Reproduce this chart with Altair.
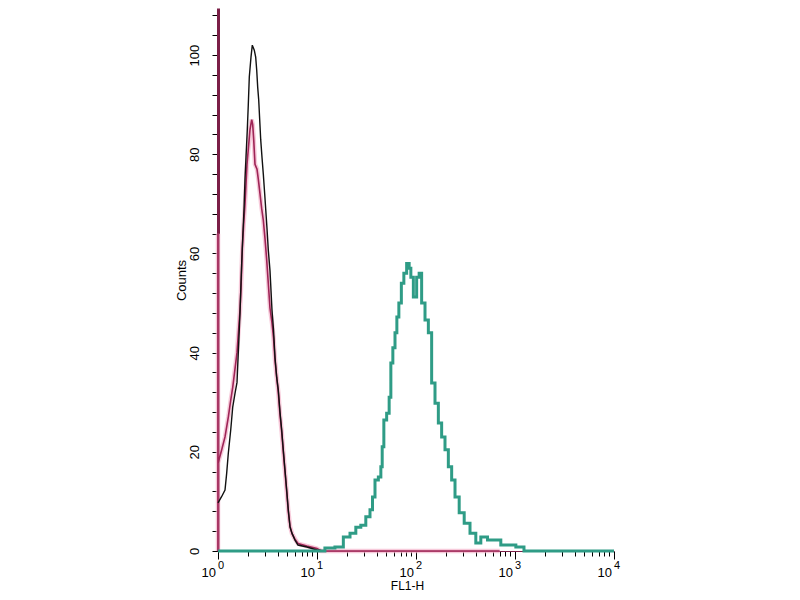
import altair as alt
import pandas as pd

# ---- data (FL1-H value, counts) ----
black_x = [1.0, 1.09, 1.177, 1.224, 1.271, 1.344, 1.408, 1.485, 1.556, 1.668, 1.735, 1.776,
           1.832, 1.874, 1.918, 1.977, 2.023, 2.071, 2.154, 2.221, 2.326, 2.403, 2.46, 2.518,
           2.577, 2.637, 2.699, 2.782, 2.869, 2.963, 3.032, 3.126, 3.222, 3.35, 3.43, 3.51,
           3.637, 3.766, 3.917, 4.065, 4.23, 4.40, 4.566, 4.75, 4.94, 5.13, 5.34, 5.59, 5.99,
           6.43, 7.9, 10.0, 12.0]
black_y = [9.7, 11, 12.3, 15.7, 19.7, 24.4, 29, 31.8, 34, 48, 58, 63,
           69, 75, 79.4, 85, 90, 95.6, 99.6, 102, 101, 99.6, 97, 93.5,
           91, 87, 83, 79.4, 76, 72, 69, 65, 60.7, 56.6, 52.6, 48.6,
           44.6, 39, 35, 32.5, 28, 24.4, 20.4, 16.3, 12.3, 8.3, 4.8, 3.6, 2.2,
           1.2, 0.8, 0.2, 0]

magenta_x = [1.0, 1.0, 1.0, 1.09, 1.177, 1.271, 1.344, 1.408, 1.556, 1.668, 1.707, 1.76,
             1.818, 1.874, 1.918, 1.963, 2.023, 2.105, 2.19, 2.241, 2.294, 2.364, 2.477,
             2.553, 2.657, 2.764, 2.869, 2.984, 3.104, 3.222, 3.35, 3.51, 3.637, 3.766,
             3.917, 4.065, 4.23, 4.40, 4.566, 4.75, 4.94, 5.13, 5.34, 5.59, 5.99, 6.43,
             7.9, 10.0, 11.0, 700.0]
magenta_y = [0, 64, 17.7, 20.4, 23, 27, 30.4, 33, 40, 48.6, 53, 61,
             66, 70, 74, 78, 81, 85, 87, 86, 83, 78, 77,
             75, 72, 69, 66.7, 63, 58.7, 54, 49, 46, 43, 38.5,
             35, 32, 27.5, 24, 20, 16, 12, 8, 5, 3.5, 2.4, 1.5,
             1.0, 0.5, 0, 0]

teal_x = [1.0, 10.7, 13.5, 17.07, 19.95, 23.27, 26.14, 29.36, 32.97, 35.69, 37.04, 40.09,
          43.29, 45.03, 46.09, 48.63, 52.51, 54.63, 56.82, 59.95, 62.81, 65.36, 68.93, 73.4,
          77.43, 83.6, 86.99, 90.5, 97.7, 105.5, 109.7, 118.5, 128.3, 138.5, 149.5, 161.9,
          174.7, 188.7, 204.2, 220.5, 238.2, 257.7, 289.4, 325.2, 379.2, 426.0, 478.5,
          581.8, 678.3, 761.8, 926.2, 1123.0, 1352.0, 10000.0]
teal_y = [0, 0, 0.6, 0.8, 2.8, 3.6, 4.8, 5.2, 6.9, 8.3, 10.9, 14.3,
          14.9, 17, 21, 26.4, 27.8, 31, 37.9, 41, 44, 47.2, 50, 54,
          56, 58, 57, 55.2, 51.2, 55.2, 56, 50, 46.6, 44, 33.9, 29.8,
          25.8, 23, 20.4, 17, 14.3, 10.9, 7.7, 5.6, 3.6, 1.6, 2.8,
          2.2, 2.2, 1.2, 1.2, 0.8, 0, 0]

x_ticks = [1, 2, 3, 4, 5, 6, 7, 8, 9,
           10, 20, 30, 40, 50, 60, 70, 80, 90,
           100, 200, 300, 400, 500, 600, 700, 800, 900,
           1000, 2000, 3000, 4000, 5000, 6000, 7000, 8000, 9000, 10000]
y_ticks = [0, 4, 8, 12, 16, 20, 24, 28, 32, 36, 40, 44, 48, 52, 56, 60,
           64, 68, 72, 76, 80, 84, 88, 92, 96, 100, 104, 108]
decades = [1, 10, 100, 1000, 10000]
dec_base = ["10", "10", "10", "10", "10"]
dec_exp = ["0", "1", "2", "3", "4"]

rows = []
for name, xs, ys in [("halo", magenta_x, magenta_y), ("magenta", magenta_x, magenta_y),
                     ("black", black_x, black_y), ("teal", teal_x, teal_y)]:
    for i, (xv, yv) in enumerate(zip(xs, ys)):
        rows.append({"series": name, "i": i, "fl1": xv, "count": yv})
df = pd.DataFrame(rows)
lab = pd.DataFrame({"v": decades, "base": dec_base, "exp": dec_exp})

FONT = "Liberation Sans"
W, H = 396, 543

xscale = alt.Scale(type="log", domain=[1, 10000], nice=False)
yscale = alt.Scale(domain=[0, 109.5], nice=False, zero=True)

xaxis = alt.Axis(values=x_ticks, labels=False, grid=False, title="FL1-H",
                 titleX=189, titleY=38, titleBaseline="alphabetic", titleAlign="center",
                 titleFont=FONT, titleFontSize=12, titleFontWeight="normal", titleColor="black",
                 tickColor="black", tickWidth=1,
                 tickSize={"condition": {"test": "indexof([1,10,100,1000,10000], datum.value) >= 0",
                                         "value": 8}, "value": 5},
                 domainColor="#7b1f47", domainWidth=1)
yaxis = alt.Axis(values=y_ticks, labelExpr="datum.value % 20 == 0 ? datum.label : ''",
                 grid=False, labelAngle=270, labelAlign="center", labelBaseline="bottom",
                 labelPadding=11, labelFont=FONT, labelFontSize=13, labelColor="black",
                 tickColor="black", tickSize=6, tickWidth=1,
                 domainColor="#7b1f47", domainWidth=3,
                 title="Counts", titleAngle=270, titleX=-33, titleY=272,
                 titleBaseline="alphabetic", titleAlign="center", titleFont=FONT,
                 titleFontSize=13, titleFontWeight="normal", titleColor="black")


def line(series, color, width, opacity=1.0, interp="linear"):
    return alt.Chart(df).transform_filter(alt.datum.series == series).mark_line(
        color=color, strokeWidth=width, opacity=opacity, interpolate=interp
    ).encode(
        x=alt.X("fl1:Q", scale=xscale, axis=xaxis),
        y=alt.Y("count:Q", scale=yscale, axis=yaxis),
        order="i:Q",
    )


halo = line("halo", "#f3b3cb", 4.5, 0.7)
mag = line("magenta", "#9e2456", 1.6)
blk = line("black", "#111111", 1.4)
teal = line("teal", "#2f9c86", 3, interp="step")

base_txt = alt.Chart(lab).mark_text(align="right", baseline="alphabetic", dx=-2,
                                    font=FONT, fontSize=13, color="black").encode(
    x=alt.X("v:Q", scale=xscale, axis=xaxis), y=alt.value(H + 26), text="base:N")
exp_txt = alt.Chart(lab).mark_text(align="left", baseline="alphabetic", dx=0,
                                   font=FONT, fontSize=11, color="black").encode(
    x=alt.X("v:Q", scale=xscale, axis=xaxis), y=alt.value(H + 18), text="exp:N")

chart = alt.layer(halo, mag, blk, teal, base_txt, exp_txt).properties(
    width=W, height=H, background="white",
    autosize=alt.AutoSizeParams(type="none"),
    padding={"left": 210, "top": 0, "right": 160, "bottom": 41},
).configure_view(stroke=None)

chart.save("out.html", embed_options={"renderer": "svg", "actions": False})
